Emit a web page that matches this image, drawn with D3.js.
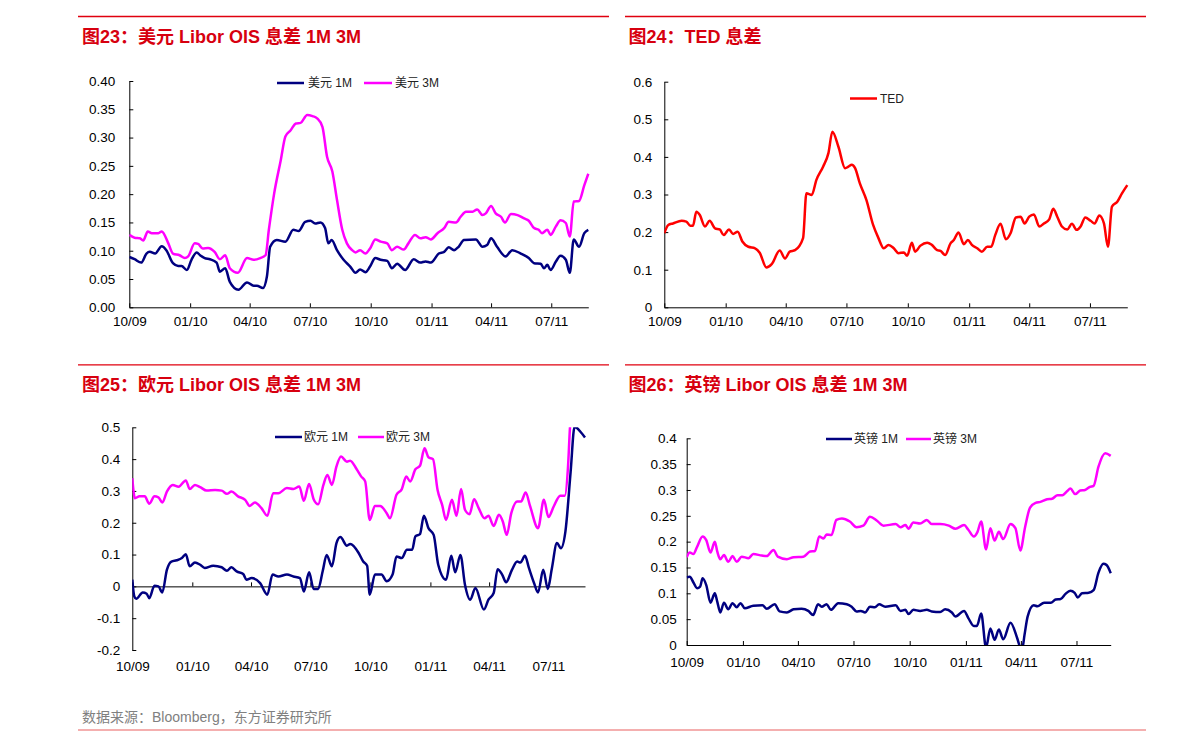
<!DOCTYPE html>
<html><head><meta charset="utf-8">
<script src="https://cdn.jsdelivr.net/npm/d3@7"></script>
<style>
body{margin:0;background:#fff}
svg{display:block}
text{font-family:"Liberation Sans",Arial,"Noto Sans CJK SC",sans-serif}
</style>
</head><body>
<svg id="c" width="1191" height="745"></svg>
<script>
// ---------------- DATA ----------------
const startDate = "2009-10-01", endDate = "2011-08-26";
const xTickDates = ["2009-10-01","2010-01-01","2010-04-01","2010-07-01","2010-10-01","2011-01-01","2011-04-01","2011-07-01"];
const xTickLabels = ["10/09","01/10","04/10","07/10","10/10","01/11","04/11","07/11"];

const usdTicks = [0,0.05,0.10,0.15,0.20,0.25,0.30,0.35,0.40];
const usdTickLabels = ["0.00","0.05","0.10","0.15","0.20","0.25","0.30","0.35","0.40"];
const tedTicks = [0,0.1,0.2,0.3,0.4,0.5,0.6];
const tedTickLabels = ["0","0.1","0.2","0.3","0.4","0.5","0.6"];
const eurTicks = [-0.2,-0.1,0,0.1,0.2,0.3,0.4,0.5];
const eurTickLabels = ["-0.2","-0.1","0","0.1","0.2","0.3","0.4","0.5"];
const gbpTicks = [0,0.05,0.1,0.15,0.2,0.25,0.3,0.35,0.4];
const gbpTickLabels = ["0","0.05","0.1","0.15","0.2","0.25","0.3","0.35","0.4"];

const usd1M = [["2009-10-01",0.089],["2009-10-09",0.085],["2009-10-19",0.079],["2009-10-27",0.095],["2009-11-01",0.098],["2009-11-09",0.095],["2009-11-19",0.108],["2009-11-26",0.101],["2009-12-06",0.078],["2009-12-14",0.073],["2009-12-19",0.073],["2009-12-27",0.066],["2010-01-03",0.084],["2010-01-11",0.097],["2010-01-16",0.092],["2010-01-23",0.087],["2010-01-31",0.085],["2010-02-10",0.079],["2010-02-15",0.063],["2010-02-23",0.069],["2010-03-02",0.045],["2010-03-15",0.031],["2010-03-28",0.044],["2010-04-07",0.038],["2010-04-12",0.038],["2010-04-21",0.034],["2010-04-27",0.054],["2010-05-02",0.107],["2010-05-12",0.119],["2010-05-25",0.116],["2010-06-06",0.137],["2010-06-14",0.135],["2010-06-24",0.151],["2010-07-02",0.153],["2010-07-09",0.148],["2010-07-17",0.150],["2010-07-24",0.140],["2010-07-29",0.113],["2010-08-03",0.119],["2010-08-11",0.101],["2010-08-21",0.084],["2010-08-31",0.072],["2010-09-08",0.061],["2010-09-15",0.067],["2010-09-23",0.062],["2010-09-30",0.072],["2010-10-08",0.087],["2010-10-16",0.084],["2010-10-26",0.082],["2010-11-02",0.069],["2010-11-10",0.077],["2010-11-22",0.066],["2010-12-05",0.085],["2010-12-15",0.079],["2010-12-23",0.081],["2010-12-31",0.079],["2011-01-12",0.095],["2011-01-20",0.098],["2011-01-27",0.106],["2011-02-04",0.101],["2011-02-11",0.107],["2011-02-19",0.119],["2011-03-09",0.120],["2011-03-19",0.107],["2011-03-26",0.110],["2011-04-01",0.122],["2011-04-10",0.107],["2011-04-23",0.090],["2011-05-03",0.101],["2011-05-16",0.095],["2011-05-28",0.087],["2011-06-05",0.078],["2011-06-15",0.077],["2011-06-20",0.069],["2011-06-25",0.075],["2011-06-30",0.066],["2011-07-08",0.081],["2011-07-15",0.091],["2011-07-23",0.084],["2011-07-29",0.061],["2011-08-04",0.120],["2011-08-12",0.107],["2011-08-20",0.131],["2011-08-26",0.137]];

const usd3M = [["2009-10-01",0.128],["2009-10-09",0.123],["2009-10-17",0.122],["2009-10-22",0.118],["2009-10-29",0.134],["2009-11-04",0.131],["2009-11-14",0.131],["2009-11-19",0.134],["2009-11-29",0.113],["2009-12-06",0.095],["2009-12-16",0.092],["2009-12-24",0.087],["2009-12-29",0.090],["2010-01-08",0.113],["2010-01-13",0.112],["2010-01-20",0.104],["2010-01-28",0.105],["2010-02-07",0.098],["2010-02-15",0.085],["2010-02-23",0.092],["2010-03-02",0.069],["2010-03-14",0.061],["2010-03-28",0.087],["2010-04-07",0.084],["2010-04-17",0.087],["2010-04-25",0.092],["2010-04-30",0.137],["2010-05-08",0.201],["2010-05-18",0.260],["2010-05-25",0.302],["2010-06-02",0.313],["2010-06-10",0.325],["2010-06-17",0.326],["2010-06-27",0.340],["2010-07-05",0.338],["2010-07-12",0.334],["2010-07-20",0.319],["2010-07-27",0.266],["2010-08-04",0.240],["2010-08-11",0.190],["2010-08-19",0.137],["2010-08-26",0.113],["2010-09-03",0.101],["2010-09-08",0.097],["2010-09-15",0.101],["2010-09-23",0.095],["2010-09-30",0.104],["2010-10-08",0.120],["2010-10-16",0.116],["2010-10-26",0.113],["2010-11-02",0.101],["2010-11-10",0.107],["2010-11-20",0.102],["2010-11-27",0.113],["2010-12-07",0.128],["2010-12-15",0.122],["2010-12-23",0.124],["2010-12-31",0.120],["2011-01-10",0.131],["2011-01-20",0.140],["2011-01-27",0.151],["2011-02-07",0.150],["2011-02-14",0.160],["2011-02-22",0.169],["2011-03-04",0.169],["2011-03-11",0.173],["2011-03-19",0.163],["2011-03-24",0.166],["2011-04-01",0.179],["2011-04-08",0.166],["2011-04-16",0.160],["2011-04-22",0.150],["2011-05-01",0.165],["2011-05-11",0.163],["2011-05-21",0.157],["2011-05-28",0.153],["2011-06-05",0.140],["2011-06-12",0.137],["2011-06-17",0.131],["2011-06-25",0.137],["2011-06-30",0.128],["2011-07-08",0.143],["2011-07-15",0.154],["2011-07-23",0.149],["2011-07-29",0.125],["2011-08-04",0.187],["2011-08-12",0.188],["2011-08-20",0.216],["2011-08-26",0.236]];

const ted = [["2009-10-01",0.197],["2009-10-07",0.219],["2009-10-14",0.223],["2009-10-27",0.230],["2009-11-03",0.228],["2009-11-09",0.217],["2009-11-13",0.217],["2009-11-18",0.254],["2009-11-23",0.246],["2009-12-01",0.215],["2009-12-08",0.230],["2009-12-16",0.210],["2009-12-23",0.207],["2009-12-29",0.192],["2010-01-06",0.207],["2010-01-12",0.195],["2010-01-19",0.201],["2010-01-26",0.175],["2010-02-04",0.161],["2010-02-14",0.157],["2010-02-21",0.145],["2010-03-03",0.106],["2010-03-11",0.115],["2010-03-23",0.151],["2010-03-31",0.130],["2010-04-07",0.148],["2010-04-15",0.152],["2010-04-27",0.184],["2010-05-02",0.303],["2010-05-10",0.299],["2010-05-17",0.339],["2010-05-27",0.374],["2010-06-04",0.410],["2010-06-10",0.467],["2010-06-19",0.427],["2010-06-29",0.370],["2010-07-04",0.374],["2010-07-09",0.379],["2010-07-14",0.370],["2010-07-21",0.330],["2010-07-31",0.285],["2010-08-10",0.219],["2010-08-18",0.184],["2010-08-26",0.157],["2010-09-02",0.166],["2010-09-10",0.157],["2010-09-17",0.144],["2010-09-25",0.146],["2010-09-30",0.137],["2010-10-07",0.172],["2010-10-12",0.148],["2010-10-20",0.164],["2010-10-30",0.172],["2010-11-06",0.166],["2010-11-14",0.152],["2010-11-19",0.150],["2010-11-26",0.139],["2010-12-04",0.170],["2010-12-09",0.179],["2010-12-16",0.199],["2010-12-24",0.168],["2010-12-30",0.179],["2011-01-05",0.166],["2011-01-13",0.157],["2011-01-20",0.148],["2011-01-28",0.161],["2011-02-03",0.161],["2011-02-09",0.192],["2011-02-17",0.222],["2011-02-25",0.181],["2011-03-04",0.197],["2011-03-12",0.239],["2011-03-19",0.241],["2011-03-25",0.223],["2011-04-01",0.241],["2011-04-08",0.247],["2011-04-16",0.215],["2011-04-23",0.223],["2011-05-01",0.234],["2011-05-07",0.262],["2011-05-13",0.241],["2011-05-20",0.215],["2011-05-28",0.207],["2011-06-04",0.222],["2011-06-11",0.206],["2011-06-17",0.215],["2011-06-24",0.239],["2011-07-02",0.230],["2011-07-08",0.223],["2011-07-15",0.244],["2011-07-22",0.223],["2011-07-28",0.161],["2011-08-03",0.268],["2011-08-11",0.281],["2011-08-18",0.303],["2011-08-26",0.325]];

const eur1M = [["2009-10-01",0.021],["2009-10-04",-0.031],["2009-10-07",-0.039],["2009-10-17",-0.019],["2009-10-23",-0.023],["2009-10-27",-0.037],["2009-11-04",0.002],["2009-11-10",0.0],["2009-11-16",-0.019],["2009-11-23",0.052],["2009-11-30",0.078],["2009-12-08",0.082],["2009-12-16",0.089],["2009-12-22",0.101],["2009-12-28",0.063],["2010-01-05",0.075],["2010-01-13",0.068],["2010-01-20",0.058],["2010-02-02",0.065],["2010-02-15",0.060],["2010-02-23",0.049],["2010-03-02",0.060],["2010-03-10",0.047],["2010-03-20",0.039],["2010-03-25",0.021],["2010-04-02",0.026],["2010-04-15",0.010],["2010-04-26",-0.026],["2010-05-04",0.037],["2010-05-13",0.031],["2010-05-26",0.037],["2010-06-05",0.031],["2010-06-15",0.026],["2010-06-21",-0.016],["2010-06-29",0.044],["2010-07-06",-0.008],["2010-07-13",-0.008],["2010-07-20",0.049],["2010-07-26",0.099],["2010-08-03",0.063],["2010-08-10",0.136],["2010-08-16",0.155],["2010-08-26",0.128],["2010-08-31",0.133],["2010-09-13",0.105],["2010-09-20",0.078],["2010-09-26",0.065],["2010-09-30",-0.026],["2010-10-08",0.037],["2010-10-18",0.037],["2010-10-26",0.016],["2010-11-04",0.037],["2010-11-10",0.094],["2010-11-18",0.089],["2010-11-26",0.115],["2010-12-04",0.115],["2010-12-09",0.157],["2010-12-16",0.164],["2010-12-22",0.222],["2010-12-29",0.183],["2011-01-06",0.162],["2011-01-13",0.068],["2011-01-25",0.021],["2011-02-02",0.096],["2011-02-08",0.044],["2011-02-16",0.099],["2011-02-23",0.005],["2011-03-03",-0.042],["2011-03-11",-0.005],["2011-03-24",-0.073],["2011-03-31",-0.042],["2011-04-08",-0.021],["2011-04-14",0.054],["2011-04-21",0.037],["2011-04-27",0.013],["2011-05-06",0.052],["2011-05-14",0.078],["2011-05-19",0.075],["2011-05-26",0.096],["2011-06-01",0.058],["2011-06-09",0.010],["2011-06-15",-0.019],["2011-06-23",0.052],["2011-06-30",-0.008],["2011-07-06",0.054],["2011-07-14",0.136],["2011-07-20",0.120],["2011-07-27",0.173],["2011-08-04",0.361],["2011-08-10",0.502],["2011-08-19",0.486],["2011-08-26",0.468]];

const eur3M = [["2009-10-01",0.340],["2009-10-05",0.277],["2009-10-12",0.283],["2009-10-20",0.283],["2009-10-27",0.260],["2009-11-04",0.283],["2009-11-10",0.280],["2009-11-16",0.264],["2009-11-23",0.298],["2009-12-02",0.319],["2009-12-11",0.313],["2009-12-22",0.333],["2009-12-28",0.306],["2010-01-05",0.319],["2010-01-13",0.312],["2010-01-23",0.301],["2010-02-05",0.303],["2010-02-15",0.301],["2010-02-23",0.291],["2010-03-02",0.298],["2010-03-12",0.283],["2010-03-23",0.272],["2010-03-30",0.253],["2010-04-07",0.264],["2010-04-17",0.246],["2010-04-26",0.222],["2010-05-05",0.293],["2010-05-13",0.293],["2010-05-26",0.309],["2010-06-05",0.306],["2010-06-14",0.314],["2010-06-21",0.269],["2010-06-29",0.322],["2010-07-06",0.274],["2010-07-13",0.258],["2010-07-21",0.319],["2010-07-27",0.350],["2010-08-03",0.319],["2010-08-10",0.377],["2010-08-17",0.408],["2010-08-26",0.392],["2010-08-31",0.395],["2010-09-10",0.368],["2010-09-17",0.345],["2010-09-23",0.330],["2010-09-30",0.209],["2010-10-08",0.253],["2010-10-16",0.253],["2010-10-26",0.230],["2010-10-31",0.214],["2010-11-10",0.288],["2010-11-18",0.305],["2010-11-25",0.345],["2010-12-01",0.330],["2010-12-09",0.368],["2010-12-16",0.379],["2010-12-23",0.434],["2010-12-29",0.406],["2011-01-05",0.400],["2011-01-12",0.303],["2011-01-19",0.256],["2011-01-25",0.209],["2011-02-03",0.272],["2011-02-10",0.222],["2011-02-17",0.306],["2011-02-23",0.241],["2011-03-02",0.227],["2011-03-09",0.274],["2011-03-16",0.246],["2011-03-25",0.214],["2011-03-31",0.222],["2011-04-08",0.190],["2011-04-16",0.225],["2011-04-22",0.204],["2011-04-28",0.162],["2011-05-05",0.230],["2011-05-14",0.267],["2011-05-20",0.267],["2011-05-27",0.295],["2011-06-03",0.251],["2011-06-15",0.183],["2011-06-24",0.272],["2011-07-01",0.218],["2011-07-09",0.251],["2011-07-19",0.285],["2011-07-26",0.285],["2011-07-31",0.377],["2011-08-03",0.500],["2011-08-06",0.560],["2011-08-14",0.620],["2011-08-26",0.630]];

const gbp1M = [["2009-10-01",0.131],["2009-10-06",0.132],["2009-10-12",0.121],["2009-10-18",0.110],["2009-10-23",0.113],["2009-10-27",0.129],["2009-11-02",0.116],["2009-11-09",0.082],["2009-11-16",0.100],["2009-11-20",0.084],["2009-11-25",0.063],["2009-12-01",0.082],["2009-12-08",0.069],["2009-12-15",0.081],["2009-12-22",0.073],["2009-12-28",0.081],["2010-01-04",0.071],["2010-01-18",0.076],["2010-02-02",0.077],["2010-02-09",0.070],["2010-02-22",0.079],["2010-03-02",0.065],["2010-03-14",0.063],["2010-03-25",0.069],["2010-04-07",0.070],["2010-04-18",0.066],["2010-04-26",0.058],["2010-05-04",0.079],["2010-05-10",0.074],["2010-05-18",0.079],["2010-05-25",0.068],["2010-06-06",0.081],["2010-06-20",0.079],["2010-06-28",0.074],["2010-07-06",0.065],["2010-07-13",0.066],["2010-07-20",0.063],["2010-07-28",0.074],["2010-08-05",0.073],["2010-08-12",0.079],["2010-08-22",0.074],["2010-09-08",0.077],["2010-09-16",0.066],["2010-09-24",0.068],["2010-09-29",0.060],["2010-10-07",0.068],["2010-10-18",0.066],["2010-10-29",0.068],["2010-11-06",0.065],["2010-11-20",0.064],["2010-11-28",0.069],["2010-12-09",0.063],["2010-12-15",0.055],["2010-12-29",0.066],["2011-01-05",0.052],["2011-01-14",0.037],["2011-01-19",0.037],["2011-01-26",0.061],["2011-02-03",-0.005],["2011-02-10",0.032],["2011-02-17",0.010],["2011-02-24",0.030],["2011-03-03",0.011],["2011-03-15",0.043],["2011-03-26",0.013],["2011-03-31",-0.005],["2011-04-03",-0.008],["2011-04-07",0.020],["2011-04-12",0.055],["2011-04-22",0.077],["2011-04-28",0.075],["2011-05-09",0.082],["2011-05-20",0.082],["2011-05-28",0.088],["2011-06-05",0.089],["2011-06-13",0.099],["2011-06-21",0.105],["2011-06-28",0.101],["2011-07-03",0.092],["2011-07-10",0.100],["2011-07-21",0.101],["2011-07-29",0.106],["2011-08-06",0.140],["2011-08-14",0.157],["2011-08-19",0.155],["2011-08-26",0.139]];

const gbp3M = [["2009-10-01",0.170],["2009-10-06",0.179],["2009-10-12",0.176],["2009-10-18",0.190],["2009-10-27",0.210],["2009-11-02",0.203],["2009-11-09",0.179],["2009-11-16",0.200],["2009-11-20",0.181],["2009-11-25",0.166],["2009-12-01",0.174],["2009-12-08",0.161],["2009-12-15",0.172],["2009-12-22",0.161],["2009-12-30",0.171],["2010-01-10",0.168],["2010-01-18",0.176],["2010-02-01",0.173],["2010-02-09",0.172],["2010-02-20",0.184],["2010-02-27",0.171],["2010-03-14",0.166],["2010-03-25",0.170],["2010-04-10",0.171],["2010-04-21",0.181],["2010-04-29",0.182],["2010-05-06",0.210],["2010-05-13",0.206],["2010-05-18",0.214],["2010-05-26",0.213],["2010-06-03",0.242],["2010-06-12",0.245],["2010-06-25",0.239],["2010-07-06",0.228],["2010-07-17",0.231],["2010-07-28",0.248],["2010-08-08",0.241],["2010-08-19",0.231],["2010-09-08",0.234],["2010-09-16",0.228],["2010-09-24",0.232],["2010-09-29",0.225],["2010-10-07",0.237],["2010-10-18",0.235],["2010-10-29",0.242],["2010-11-06",0.234],["2010-11-20",0.234],["2010-12-04",0.231],["2010-12-15",0.225],["2010-12-29",0.232],["2011-01-05",0.223],["2011-01-14",0.210],["2011-01-20",0.219],["2011-01-26",0.239],["2011-02-03",0.185],["2011-02-10",0.226],["2011-02-17",0.202],["2011-02-24",0.219],["2011-03-03",0.205],["2011-03-15",0.234],["2011-03-23",0.226],["2011-03-31",0.183],["2011-04-08",0.229],["2011-04-16",0.266],["2011-04-25",0.275],["2011-05-03",0.277],["2011-05-14",0.282],["2011-05-22",0.283],["2011-05-31",0.290],["2011-06-08",0.290],["2011-06-16",0.298],["2011-06-21",0.303],["2011-06-29",0.292],["2011-07-07",0.299],["2011-07-15",0.300],["2011-07-23",0.306],["2011-07-29",0.308],["2011-08-06",0.345],["2011-08-17",0.371],["2011-08-26",0.366]];

const sourceText = "数据来源：Bloomberg，东方证券研究所";

// ---------------- LAYOUT ----------------
const NAVY = "#000080", MAGENTA = "#FF00FF", RED = "#FF0000";
const panels = [
  { title:"图23：美元 Libor OIS 息差 1M 3M", rule:[78,609,16.5], titleX:82, titleY:43,
    l:129.3, r:588.3, t:81, b:307.3, yDomain:[0,0.4], yTicks:usdTicks, yLabels:usdTickLabels, pad:14, labelY:326,
    series:[{name:"美元 1M", data:usd1M, color:NAVY},{name:"美元 3M", data:usd3M, color:MAGENTA}],
    legend:[{x1:277,x2:304,tx:308,y:83},{x1:364,x2:392,tx:395,y:83}] },
  { title:"图24：TED 息差", rule:[625,1146,16.5], titleX:628.5, titleY:43,
    l:664.3, r:1127.3, t:81.7, b:307.3, yDomain:[0,0.6], yTicks:tedTicks, yLabels:tedTickLabels, pad:12, labelY:326,
    series:[{name:"TED", data:ted, color:RED}],
    legend:[{x1:850,x2:877,tx:880,y:98.5}] },
  { title:"图25：欧元 Libor OIS 息差 1M 3M", rule:[78,609,364.8], titleX:82, titleY:391,
    l:132.3, r:585, t:427.3, b:650, yDomain:[-0.2,0.5], yTicks:eurTicks, yLabels:eurTickLabels, pad:12, labelY:671,
    series:[{name:"欧元 1M", data:eur1M, color:NAVY},{name:"欧元 3M", data:eur3M, color:MAGENTA}],
    legend:[{x1:275,x2:302,tx:304,y:437},{x1:358,x2:384,tx:386,y:437}] },
  { title:"图26：英镑 Libor OIS 息差 1M 3M", rule:[625,1146,364.8], titleX:628.5, titleY:391,
    l:686.7, r:1110.7, t:438.3, b:645, yDomain:[0,0.4], yTicks:gbpTicks, yLabels:gbpTickLabels, pad:10, labelY:667,
    series:[{name:"英镑 1M", data:gbp1M, color:NAVY},{name:"英镑 3M", data:gbp3M, color:MAGENTA}],
    legend:[{x1:826,x2:852,tx:854,y:439},{x1:906,x2:931,tx:933,y:439}] }
];

const parse = d3.timeParse("%Y-%m-%d");
const svg = d3.select("#c");
const defs = svg.append("defs");

panels.forEach((p, idx) => {
  const g = svg.append("g");
  g.append("line").attr("x1",p.rule[0]).attr("x2",p.rule[1]).attr("y1",p.rule[2]).attr("y2",p.rule[2])
    .attr("stroke","#E0000F").attr("stroke-width",1.3);
  g.append("text").attr("x",p.titleX).attr("y",p.titleY).text(p.title)
    .attr("fill","#D7000F").attr("font-size",18).attr("font-weight","bold");

  const x = d3.scaleTime().domain([parse(startDate), parse(endDate)]).range([p.l, p.r]);
  const y = d3.scaleLinear().domain(p.yDomain).range([p.b, p.t]);

  const cid = "clip" + idx;
  defs.append("clipPath").attr("id", cid).append("rect")
    .attr("x", p.l).attr("y", p.t).attr("width", p.r - p.l + 4).attr("height", p.b - p.t);

  // Y axis
  const ya = g.append("g").attr("transform", `translate(${p.l},0)`)
    .call(d3.axisLeft(y).tickValues(p.yTicks).tickSizeInner(-4).tickSizeOuter(0).tickPadding(p.pad)
      .tickFormat((d,i) => p.yLabels[i]));
  ya.attr("font-family", null).attr("font-size", null);
  ya.selectAll("path,line").attr("stroke","#000").attr("stroke-width",1);
  ya.selectAll("text").attr("font-size",13.5).attr("fill","#000");

  // X axis at y=0
  const y0 = y(0);
  const xa = g.append("g").attr("transform", `translate(0,${y0})`)
    .call(d3.axisBottom(x).tickValues(xTickDates.map(parse)).tickSizeInner(-4).tickSizeOuter(0)
      .tickFormat((d,i) => xTickLabels[i]));
  xa.attr("font-family", null).attr("font-size", null);
  xa.selectAll("path,line").attr("stroke","#000").attr("stroke-width",1);
  xa.selectAll("text").attr("font-size",13.5).attr("fill","#000")
    .attr("dy", null).attr("y", p.labelY - y0);

  // Lines
  const line = d3.line().x(d => x(parse(d[0]))).y(d => y(d[1])).curve(d3.curveMonotoneX);
  const lg = g.append("g").attr("clip-path", `url(#${cid})`);
  p.series.forEach(s => {
    lg.append("path").datum(s.data).attr("d", line).attr("fill","none")
      .attr("stroke", s.color).attr("stroke-width", 2.5).attr("stroke-linejoin","round");
  });

  // Legend
  p.series.forEach((s, i) => {
    const L = p.legend[i];
    g.append("line").attr("x1",L.x1).attr("x2",L.x2).attr("y1",L.y).attr("y2",L.y)
      .attr("stroke", s.color).attr("stroke-width", 2.5);
    g.append("text").attr("x",L.tx).attr("y",L.y).attr("dy","0.36em").text(s.name)
      .attr("font-size",12).attr("fill","#222");
  });
});

svg.append("text").attr("x",82).attr("y",722).text(sourceText).attr("font-size",14).attr("fill","#808080");
svg.append("line").attr("x1",78).attr("x2",1146).attr("y1",730).attr("y2",730)
  .attr("stroke","#F4AFAF").attr("stroke-width",2);
</script>
</body></html>
